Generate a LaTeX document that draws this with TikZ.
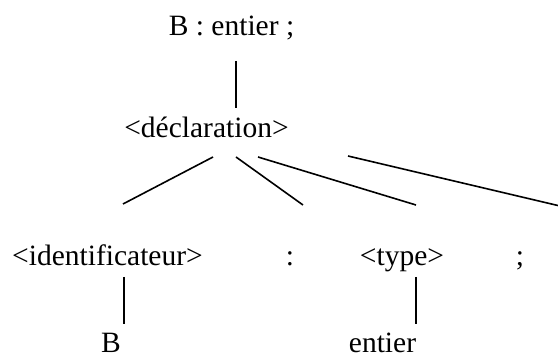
\documentclass[tikz,border=0pt]{standalone}
\usepackage{fontspec}
\setmainfont{Liberation Serif}
\begin{document}
\begin{tikzpicture}[x=1pt,y=-1pt,
  lbl/.style={inner sep=0pt,anchor=base,font=\fontsize{29.5}{35}\selectfont},
  edge/.style={line width=1.6pt}]
\useasboundingbox (0,0) rectangle (558,358);
\node[lbl] (root) at (231.5,35.5) {B : entier ;};
\node[lbl] (decl) at (206.5,138) {<déclaration>};
\node[lbl] (ident) at (107.5,266) {<identificateur>};
\node[lbl] (colon) at (290,266) {:};
\node[lbl] (type) at (402,266) {<type>};
\node[lbl] (semi) at (520,266) {;};
\node[lbl] (b) at (111,353) {B};
\node[lbl] (ent) at (382.5,353) {entier};
% connector end points
\coordinate (r1) at (236,61);   \coordinate (r2) at (236,108);
\coordinate (d1a) at (213,157); \coordinate (d1b) at (123,204);
\coordinate (d2a) at (236,157); \coordinate (d2b) at (303,205);
\coordinate (d3a) at (258,157); \coordinate (d3b) at (416,205);
\coordinate (d4a) at (348,156); \coordinate (d4b) at (560,206);
\coordinate (i1) at (124,277);  \coordinate (i2) at (124,324);
\coordinate (t1) at (416,277);  \coordinate (t2) at (416,324);
\draw[edge] (r1) -- (r2);
\draw[edge] (d1a) -- (d1b);
\draw[edge] (d2a) -- (d2b);
\draw[edge] (d3a) -- (d3b);
\draw[edge] (d4a) -- (d4b);
\draw[edge] (i1) -- (i2);
\draw[edge] (t1) -- (t2);
\end{tikzpicture}
\end{document}
